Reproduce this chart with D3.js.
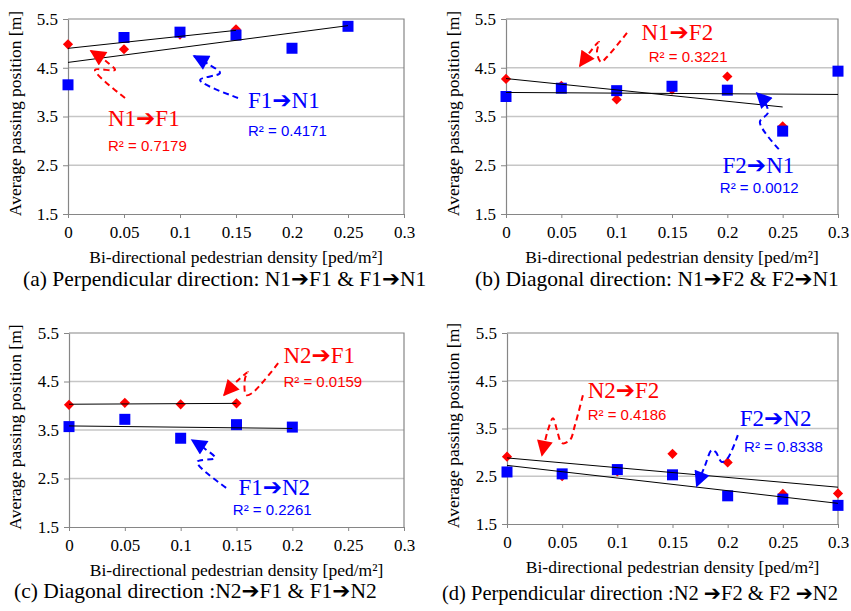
<!DOCTYPE html>
<html>
<head>
<meta charset="utf-8">
<script src="https://cdn.jsdelivr.net/npm/d3@7"></script>
<style>
  body { margin: 0; background: #fff; }
  svg { display: block; }
  .axis path, .axis line { stroke: #868686; }
</style>
</head>
<body>
<div id="chart"></div>
<script>
// ---- data ----
const xTicks = [0, 0.05, 0.1, 0.15, 0.2, 0.25, 0.3];
const yTicks = [1.5, 2.5, 3.5, 4.5, 5.5];

// (a) perpendicular N1 / F1
const x_N1F1 = [0, 0.05, 0.1, 0.15];
const y_N1F1 = [4.98, 4.88, 5.18, 5.29];
const x_F1N1 = [0, 0.05, 0.1, 0.15, 0.2, 0.25];
const y_F1N1 = [4.15, 5.12, 5.23, 5.17, 4.90, 5.35];

// (b) diagonal N1 / F2
const x_N1F2 = [0, 0.05, 0.1, 0.15, 0.2, 0.25];
const y_N1F2 = [4.27, 4.13, 3.85, 4.05, 4.32, 3.30];
const x_F2N1 = [0, 0.05, 0.1, 0.15, 0.2, 0.25, 0.3];
const y_F2N1 = [3.91, 4.08, 4.03, 4.12, 4.04, 3.20, 4.43];

// (c) diagonal N2 / F1
const x_N2F1 = [0, 0.05, 0.1, 0.15];
const y_N2F1 = [4.02, 4.06, 4.03, 4.05];
const x_F1N2 = [0, 0.05, 0.1, 0.15, 0.2];
const y_F1N2 = [3.57, 3.72, 3.33, 3.61, 3.56];

// (d) perpendicular N2 / F2
const x_N2F2 = [0, 0.05, 0.1, 0.15, 0.2, 0.25, 0.3];
const y_N2F2 = [2.91, 2.50, 2.60, 2.97, 2.79, 2.13, 2.14];
const x_F2N2 = [0, 0.05, 0.1, 0.15, 0.2, 0.25, 0.3];
const y_F2N2 = [2.59, 2.55, 2.64, 2.53, 2.09, 2.02, 1.89];

const r2Labels = {
  N1F1: "R² = 0.7179", F1N1: "R² = 0.4171",
  N1F2: "R² = 0.3221", F2N1: "R² = 0.0012",
  N2F1: "R² = 0.0159", F1N2: "R² = 0.2261",
  N2F2: "R² = 0.4186", F2N2: "R² = 0.8338"
};

const xTitle = "Bi-directional pedestrian density [ped/m²]";
const yTitle = "Average passing position [m]";

const RED = "#ff0000", BLUE = "#0000ff";
const serif = "Liberation Serif, DejaVu Sans, serif";
const sans = "Liberation Sans, Arial, sans-serif";

// annotation call-outs, in data units of each panel
const panels = [
  { left: 68, right: 404, top: 19, bottom: 214, yTitleX: 15, capX: 23, capDy: 72, capSize: 21.5,
    caption: "(a) Perpendicular direction: N1➔F1 & F1➔N1",
    red: { xs: x_N1F1, ys: y_N1F1, label: "N1➔F1", r2: r2Labels.N1F1, at: [0.0357, 3.305], r2at: [0.0357, 2.80],
      arrow: [[0.0509, 3.88], [0.0241, 4.454], [0.042, 4.454], [0.0348, 4.618], [0.0205, 4.844]] },
    blue: { xs: x_F1N1, ys: y_F1N1, label: "F1➔N1", r2: r2Labels.F1N1, at: [0.1607, 3.674], r2at: [0.1607, 3.11],
      arrow: [[0.1518, 3.88], [0.1179, 4.249], [0.1357, 4.392], [0.125, 4.577], [0.1125, 4.741]] } },
  { left: 506, right: 838, top: 19, bottom: 214, yTitleX: 453, capX: 475, capDy: 72, capSize: 21.5,
    caption: "(b) Diagonal direction: N1➔F2 & F2➔N1",
    red: { xs: x_N1F2, ys: y_N1F2, label: "N1➔F2", r2: r2Labels.N1F2, at: [0.1224, 5.069], r2at: [0.129, 4.623],
      arrow: [[0.1093, 5.213], [0.0912, 4.72], [0.0858, 4.617], [0.0822, 4.822], [0.084, 5.028], [0.0759, 4.822], [0.0668, 4.535]] },
    blue: { xs: x_F2N1, ys: y_F2N1, label: "F2➔N1", r2: r2Labels.F2N1, at: [0.1957, 2.35], r2at: [0.1932, 1.93],
      arrow: [[0.2465, 2.83], [0.2294, 3.385], [0.2366, 3.57], [0.2348, 3.755], [0.2267, 3.98]] } },
  { left: 69, right: 404, top: 333, bottom: 527, yTitleX: 15, capX: 14, capDy: 71, capSize: 21.5,
    caption: "(c) Diagonal direction :N2➔F1 & F1➔N2",
    red: { xs: x_N2F1, ys: y_N2F1, label: "N2➔F1", r2: r2Labels.N2F1, at: [0.192, 4.891], r2at: [0.192, 4.39],
      arrow: [[0.1873, 4.877], [0.164, 4.261], [0.1586, 4.22], [0.1577, 4.569], [0.1604, 4.692], [0.1514, 4.528], [0.1389, 4.22]] },
    blue: { xs: x_F1N2, ys: y_F1N2, label: "F1➔N2", r2: r2Labels.F1N2, at: [0.1517, 2.16], r2at: [0.1467, 1.75],
      arrow: [[0.1407, 2.308], [0.1147, 2.842], [0.1308, 2.924], [0.1219, 3.11], [0.1102, 3.294]] } },
  { left: 507, right: 838, top: 333, bottom: 524, yTitleX: 453, capX: 442, capDy: 76, capSize: 20.5,
    caption: "(d) Perpendicular direction :N2 ➔F2 & F2 ➔N2",
    red: { xs: x_N2F2, ys: y_N2F2, label: "N2➔F2", r2: r2Labels.N2F2, at: [0.0731, 4.141], r2at: [0.0731, 3.675],
      arrow: [[0.0688, 4.198], [0.0616, 3.57], [0.057, 3.257], [0.0498, 3.194], [0.0453, 3.466], [0.0417, 3.717], [0.0371, 3.466], [0.0317, 2.943]] },
    blue: { xs: x_F2N2, ys: y_F2N2, label: "F2➔N2", r2: r2Labels.F2N2, at: [0.211, 3.556], r2at: [0.2149, 3.012],
      arrow: [[0.2092, 3.361], [0.2001, 2.88], [0.1947, 2.797], [0.1892, 3.006], [0.1856, 3.048], [0.1793, 2.713], [0.172, 2.295]] } }
];

// least squares fit
function fit(xs, ys) {
  const mx = d3.mean(xs), my = d3.mean(ys);
  const sxy = d3.sum(xs, (v, i) => (v - mx) * (ys[i] - my));
  const sxx = d3.sum(xs, v => (v - mx) * (v - mx));
  const b = sxy / sxx;
  const a = my - b * mx;
  return d3.extent(xs).map(v => [v, a + b * v]);
}

const svg = d3.select("#chart").append("svg")
  .attr("width", 851).attr("height", 611);

const defs = svg.append("defs");
[["red", RED], ["blue", BLUE]].forEach(([id, c]) => {
  defs.append("marker")
    .attr("id", "head-" + id)
    .attr("viewBox", "0 0 10 10")
    .attr("refX", 9).attr("refY", 5)
    .attr("markerUnits", "userSpaceOnUse")
    .attr("markerWidth", 18).attr("markerHeight", 16)
    .attr("orient", "auto")
    .append("path")
    .attr("d", "M0,0 L10,5 L0,10 Z")
    .attr("fill", c);
});

const square = d3.symbol(d3.symbolSquare, 121)();
const diamond = d3.symbol(d3.symbolSquare, 52)();

panels.forEach(drawPanel);

function drawPanel(p) {
  const x = d3.scaleLinear().domain([0, 0.3]).range([p.left, p.right]);
  const y = d3.scaleLinear().domain([1.5, 5.5]).range([p.bottom, p.top]);
  const g = svg.append("g");

  // gridlines
  g.append("g").selectAll("line")
    .data(yTicks.slice(1, -1))
    .join("line")
    .attr("x1", x(0)).attr("x2", x(0.3))
    .attr("y1", d => y(d)).attr("y2", d => y(d))
    .attr("stroke", "#c6c6c6").attr("stroke-width", 1.5);

  // frame top and right
  g.append("path")
    .attr("d", `M${x(0)},${y(5.5)}H${x(0.3)}V${y(1.5)}`)
    .attr("fill", "none").attr("stroke", "#868686").attr("stroke-width", 1.2);

  g.append("g").attr("class", "axis")
    .attr("transform", `translate(0,${y(1.5)})`)
    .call(d3.axisBottom(x).tickValues(xTicks).tickFormat(d3.format("~g")).tickSize(4).tickSizeOuter(0).tickPadding(8))
    .call(a => a.select(".domain").attr("stroke-width", 1.2));

  g.append("g").attr("class", "axis")
    .attr("transform", `translate(${x(0)},0)`)
    .call(d3.axisLeft(y).tickValues(yTicks).tickFormat(d3.format(".1f")).tickSize(5).tickSizeOuter(0).tickPadding(5))
    .call(a => a.select(".domain").attr("stroke-width", 1.2));

  g.selectAll(".axis").attr("font-family", serif).attr("font-size", 17);

  // axis titles
  g.append("text")
    .attr("x", (x(0) + x(0.3)) / 2).attr("y", y(1.5) + 49)
    .attr("text-anchor", "middle")
    .attr("font-family", serif).attr("font-size", 17.5)
    .text(xTitle);

  g.append("text")
    .attr("transform", `translate(${p.yTitleX + 6},${(y(5.5) + y(1.5)) / 2 - 3}) rotate(-90)`)
    .attr("text-anchor", "middle")
    .attr("font-family", serif).attr("font-size", 17.5)
    .text(yTitle);

  // caption
  g.append("text")
    .attr("x", p.capX).attr("y", y(1.5) + p.capDy)
    .attr("font-family", serif).attr("font-size", p.capSize)
    .text(p.caption);

  // markers: red diamonds, then blue squares on top
  g.append("g").selectAll("path")
    .data(p.red.xs.map((v, i) => [v, p.red.ys[i]]))
    .join("path")
    .attr("d", diamond)
    .attr("transform", d => `translate(${x(d[0])},${y(d[1])}) rotate(45)`)
    .attr("fill", RED);

  g.append("g").selectAll("path")
    .data(p.blue.xs.map((v, i) => [v, p.blue.ys[i]]))
    .join("path")
    .attr("d", square)
    .attr("transform", d => `translate(${x(d[0])},${y(d[1])})`)
    .attr("fill", BLUE);

  // linear trend lines
  const line = d3.line().x(d => x(d[0])).y(d => y(d[1]));
  [p.red, p.blue].forEach(s => {
    g.append("path")
      .datum(fit(s.xs, s.ys))
      .attr("d", line)
      .attr("fill", "none").attr("stroke", "#000").attr("stroke-width", 1);
  });

  // call-outs
  const curve = d3.line().x(d => x(d[0])).y(d => y(d[1])).curve(d3.curveCatmullRom);
  [["red", RED, p.red], ["blue", BLUE, p.blue]].forEach(([id, c, s]) => {
    g.append("path")
      .datum(s.arrow)
      .attr("d", curve)
      .attr("fill", "none").attr("stroke", c)
      .attr("stroke-width", 2).attr("stroke-dasharray", "6,4")
      .attr("marker-end", `url(#head-${id})`);

    g.append("text")
      .attr("x", x(s.at[0])).attr("y", y(s.at[1]))
      .attr("font-family", serif).attr("font-size", 23)
      .attr("fill", c)
      .text(s.label);

    g.append("text")
      .attr("x", x(s.r2at[0])).attr("y", y(s.r2at[1]))
      .attr("font-family", sans).attr("font-size", 15)
      .attr("fill", c)
      .text(s.r2);
  });
}
</script>
</body>
</html>
